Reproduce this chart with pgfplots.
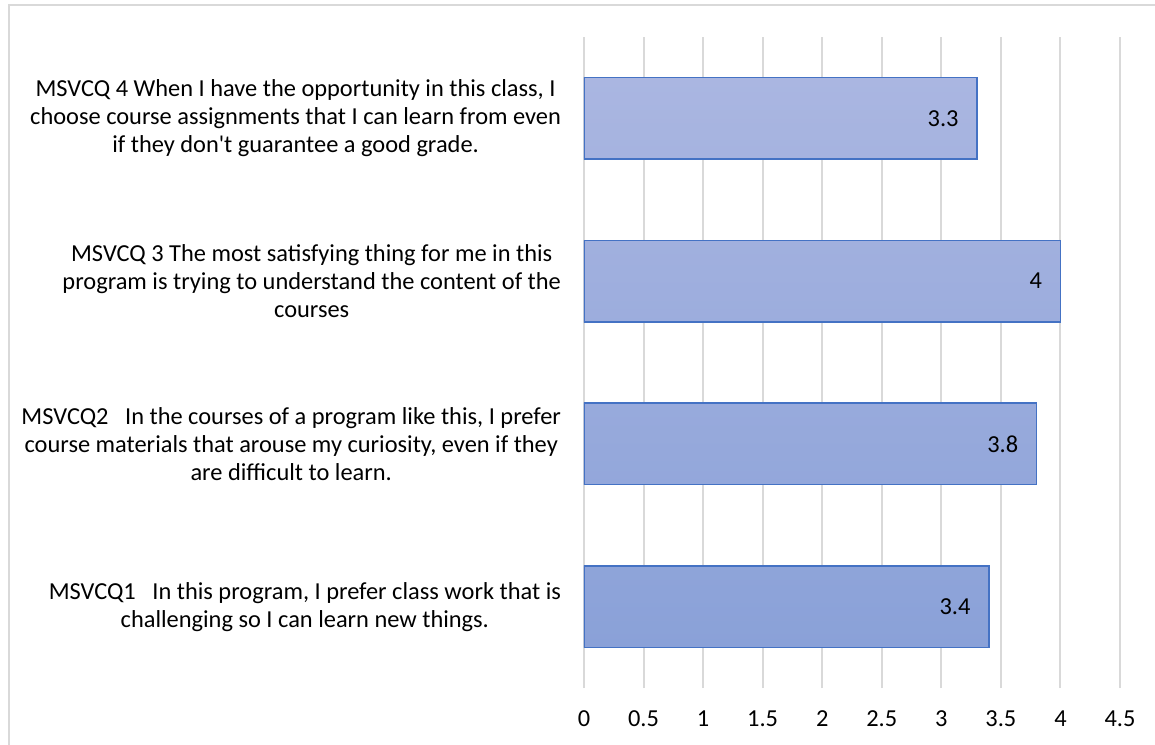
\documentclass[border=0pt]{standalone}
\usepackage{fontspec}
\setmainfont{Carlito}
\newfontfamily\plainfont{Carlito}
\usepackage{pgfplots}
\pgfplotsset{compat=1.18}
\usetikzlibrary{calc}
\definecolor{gridgray}{RGB}{217,217,217}
\definecolor{bartop}{RGB}{170,182,225}
\definecolor{barbot}{RGB}{138,161,216}
\definecolor{baredge}{RGB}{68,114,196}
\begin{document}
\begin{tikzpicture}[x=1pt,y=1pt]
\begin{axis}[
  name=ax,
  width=268pt, height=325.5pt, scale only axis,
  xbar, bar width=0.5,
  xmin=0, xmax=4.5, ymin=-0.5, ymax=3.5,
  xtick={0,0.5,...,4.5},
  ytick={0,1,2,3},
  yticklabels={
    {MSVCQ1\ \ \ In this program, I prefer class work that is\\challenging so I can learn new things.},
    {MSVCQ2\ \ \ In the courses of a program like this, I prefer\\course materials that arouse my curiosity, even if they\\are difficult to learn.},
    {MSVCQ 3 The most satisfying thing for me in this\\program is trying to understand the content of the\\courses},
    {MSVCQ 4 When I have the opportunity in this class, I\\choose course assignments that I can learn from even\\if they don{\plainfont'}t guarantee a good grade.}
  },
  yticklabel style={align=center, font=\fontsize{12.2}{14}\selectfont, xshift=-8pt},
  xticklabel style={font=\fontsize{12.2}{14}\selectfont, yshift=-8pt},
  /pgf/number format/assume math mode=true,
  xmajorgrids, grid style={gridgray, line width=1pt},
  axis line style={draw=none},
  major tick length=0pt,
  nodes near coords, point meta=x,
  nodes near coords style={anchor=east, xshift=-5.5pt, font=\fontsize{12.2}{14}\selectfont, text=black},
]
\addplot[draw=baredge, line width=0.8pt, top color=bartop, bottom color=barbot] coordinates {
  (3.4,0) (3.8,1) (4,2) (3.3,3)
};
\end{axis}
\pgfresetboundingbox
\coordinate (O) at ($(ax.south west)+(-292,-28)$);
\useasboundingbox (O) rectangle ++(577.5,372);
\draw[gridgray, line width=1pt] ($(O)+(4.5,-10)$) rectangle ($(O)+(590,369.5)$);
\end{tikzpicture}
\end{document}
